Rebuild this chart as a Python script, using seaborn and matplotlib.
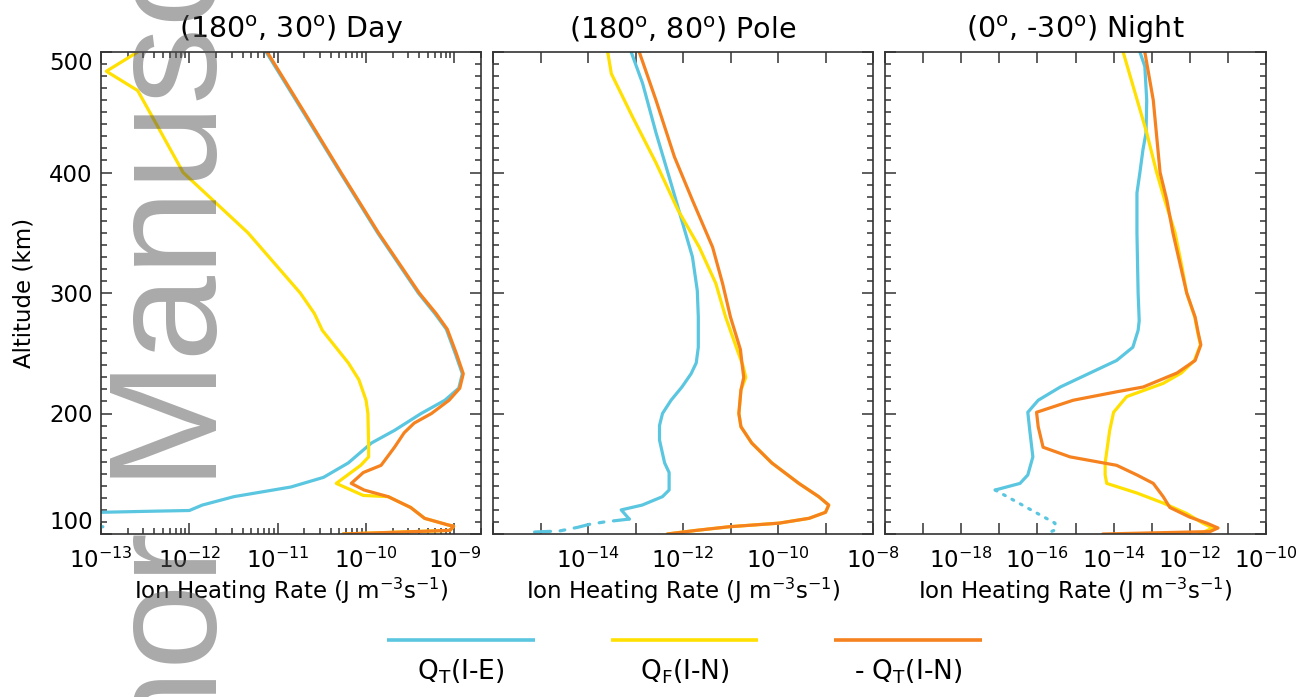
import numpy as np
import pandas as pd
import matplotlib
matplotlib.use("Agg")
import matplotlib.pyplot as plt
from matplotlib.ticker import MultipleLocator, LogLocator, NullLocator, NullFormatter
import seaborn as sns

# ---- data (altitude in km, heating rate in J m-3 s-1) ----
titles = ["(180$^{\\rm o}$, 30$^{\\rm o}$) Day",
          "(180$^{\\rm o}$, 80$^{\\rm o}$) Pole",
          "(0$^{\\rm o}$, -30$^{\\rm o}$) Night"]
series_labels = ["Q$_{\\rm T}$(I-E)", "Q$_{\\rm F}$(I-N)", "- Q$_{\\rm T}$(I-N)"]

# Day
day_alt_ie = [500, 450, 400, 350, 300, 283, 270, 250, 233, 221, 211, 200, 186, 175.5, 159, 147, 139,
              131, 124, 119.5, 118.8, 118, 117, 112, 106, 103]
day_qt_ie = [7.4e-12, 1.95e-11, 5.1e-11, 1.35e-10, 3.9e-10, 6.0e-10, 8.1e-10, 1.02e-9, 1.23e-9, 1.12e-9,
             7.8e-10, 4.2e-10, 2.1e-10, 1.15e-10, 6.3e-11, 3.3e-11, 1.41e-11, 3.2e-12, 1.4e-12,
             1.0e-12, 3.2e-13, 1.0e-13, 3.2e-14, 1.0e-14, 1.05e-13, 3.2e-14]
day_alt_qf = [500, 484, 468, 438, 400, 350, 300, 283, 269, 242, 228, 211, 200, 172, 164, 157,
              142, 132, 131, 122, 113, 107.5, 106.5, 103, 100]
day_qf_in = [2.6e-13, 1.15e-13, 2.6e-13, 4.4e-13, 8.5e-13, 4.6e-12, 1.8e-11, 2.6e-11, 3.2e-11,
             6.3e-11, 8.3e-11, 1.0e-10, 1.05e-10, 1.07e-10, 1.07e-10, 8.7e-11, 4.6e-11, 9.3e-11,
             1.78e-10, 3.2e-10, 4.6e-10, 8.5e-10, 9.8e-10, 8.9e-10, 5.5e-11]
day_alt_in = [500, 450, 400, 350, 300, 283, 270, 250, 233, 221, 211, 200, 192, 184, 172, 157, 151,
              142, 136.5, 131, 122, 113, 107.5, 106.5, 103, 100]
day_qt_in = [7.6e-12, 2.0e-11, 5.2e-11, 1.38e-10, 4.0e-10, 6.2e-10, 8.3e-10, 1.05e-9, 1.26e-9, 1.15e-9,
             8.7e-10, 5.5e-10, 3.5e-10, 2.7e-10, 2.1e-10, 1.48e-10, 9.3e-11, 6.8e-11, 9.5e-11,
             1.78e-10, 3.2e-10, 4.6e-10, 8.5e-10, 9.8e-10, 8.9e-10, 5.5e-11]

# Pole
pole_alt_ie = [500, 474, 433, 391, 358, 330, 302, 280, 255, 242, 233, 222, 211, 200, 190, 178,
               159, 151, 136.5, 131, 124, 120, 112.4]
pole_qt_ie = [8.1e-14, 1.41e-13, 2.7e-13, 5.6e-13, 9.8e-13, 1.58e-12, 2.0e-12, 2.1e-12, 2.1e-12,
              1.9e-12, 1.48e-12, 9.5e-13, 5.6e-13, 3.7e-13, 3.2e-13, 3.2e-13, 4.1e-13, 5.1e-13,
              5.1e-13, 3.7e-13, 1.38e-13, 5.0e-14, 7.4e-14]
pole_alt_ie_neg = [112.4, 110, 108, 105.5, 102.5, 101.5]
pole_qt_ie_neg = [7.4e-14, 2.2e-14, 1.07e-14, 6.0e-15, 2.5e-15, 6.0e-16]
pole_alt_qf = [500, 482, 446, 408, 369, 338, 308, 280, 253, 240, 230, 219.5, 200, 189, 175.5,
               159, 142, 131, 124, 118, 113, 109, 106, 103, 100]
pole_qf_in = [2.6e-14, 3.1e-14, 8.7e-14, 2.7e-13, 7.8e-13, 2.2e-12, 4.9e-12, 7.9e-12, 1.38e-11,
              1.82e-11, 2.1e-11, 1.66e-11, 1.5e-11, 1.66e-11, 2.8e-11, 7.4e-11, 2.75e-10,
              7.2e-10, 1.17e-9, 1.0e-9, 4.5e-10, 1.05e-10, 9.3e-12, 1.9e-12, 4.7e-13]
pole_alt_in = [500, 460, 413, 377, 338, 308, 280, 253, 242, 230, 219.5, 200, 189, 175.5, 159,
               142, 131, 124, 118, 113, 109, 106, 103, 100]
pole_qt_in = [1.2e-13, 2.7e-13, 6.6e-13, 1.58e-12, 4.2e-12, 6.8e-12, 1.0e-11, 1.62e-11, 1.74e-11,
              1.9e-11, 1.66e-11, 1.5e-11, 1.66e-11, 2.8e-11, 7.4e-11, 2.75e-10, 7.2e-10, 1.17e-9,
              1.0e-9, 4.5e-10, 1.05e-10, 9.3e-12, 1.9e-12, 4.7e-13]

# Night
night_alt_ie = [500, 488, 460, 433, 419, 400, 383, 350, 300, 277, 269, 255, 244, 233.6, 222,
                211, 201, 186, 164, 149, 142, 136.5]
night_qt_ie = [4.9e-14, 6.6e-14, 7.4e-14, 7.1e-14, 5.9e-14, 4.9e-14, 4.1e-14, 4.1e-14, 4.4e-14,
               4.7e-14, 4.4e-14, 3.2e-14, 1.2e-14, 2.4e-15, 4.0e-16, 1.05e-16, 5.6e-17, 6.3e-17,
               7.6e-17, 5.6e-17, 3.5e-17, 7.8e-18]
night_alt_ie_neg = [136.5, 109, 103.3, 100.5]
night_qt_ie_neg = [7.8e-18, 2.9e-16, 2.9e-16, 1.74e-16]
night_alt_qf = [500, 433, 400, 377, 350, 322, 300, 280, 267, 257, 244, 233.6, 225, 214, 201,
                186, 159, 149, 142, 134, 125.7, 117, 109, 105, 100]
night_qf_in = [1.78e-14, 7.4e-14, 1.35e-13, 2.2e-13, 4.1e-13, 6.2e-13, 8.3e-13, 1.35e-12,
               1.62e-12, 1.9e-12, 1.32e-12, 6.0e-13, 2.0e-13, 2.2e-14, 1.0e-14, 7.9e-15, 6.0e-15,
               6.0e-15, 6.6e-15, 4.1e-14, 2.0e-13, 8.3e-13, 2.2e-12, 4.0e-12, 1.8e-12]
night_alt_in = [500, 460, 400, 377, 350, 300, 280, 267, 257, 244, 233.6, 222, 218, 211, 201,
                189, 172, 164, 157, 149, 142, 131, 122, 114, 109, 105, 102, 100]
night_qt_in = [6.6e-14, 1.1e-13, 1.66e-13, 2.5e-13, 3.6e-13, 8.3e-13, 1.38e-12, 1.66e-12,
               1.95e-12, 1.38e-12, 4.6e-13, 6.0e-14, 1.2e-14, 8.7e-16, 9.5e-17, 1.05e-16,
               1.41e-16, 7.2e-16, 1.2e-14, 4.1e-14, 1.1e-13, 2.0e-13, 3.0e-13, 1.0e-12, 2.8e-12,
               5.5e-12, 3.4e-12, 5.2e-15]

# x axes: limits and decade ticks (exponents), labelled decades
x_limits = [(1e-13, 2e-9), (1e-16, 1e-8), (1e-20, 1e-10)]
x_decades = [range(-13, -8), range(-16, -7), range(-20, -9)]
x_labelled = [[-13, -12, -11, -10, -9], [-14, -12, -10, -8], [-18, -16, -14, -12, -10]]
y_ticks = [100, 200, 300, 400, 500]

cyan = "#5BC6E0"
yellow = "#FFE000"
orange = "#F5821F"

sns.set_style("ticks")
plt.rcParams["font.family"] = ["DejaVu Sans"]
plt.rcParams["mathtext.fontset"] = "dejavusans"
plt.rcParams["axes.unicode_minus"] = False
plt.rcParams["text.color"] = "black"
plt.rcParams["axes.labelcolor"] = "black"
plt.rcParams["xtick.color"] = "black"
plt.rcParams["ytick.color"] = "black"

fig = plt.figure(figsize=(13.1, 6.97), dpi=100)
W, H = 1310.0, 697.0
lefts = [101, 493, 885]
widths = [380, 380, 381]

panels = [
    [(day_alt_ie, day_qt_ie, cyan, "-"), (day_alt_qf, day_qf_in, yellow, "-"),
     (day_alt_in, day_qt_in, orange, "-")],
    [(pole_alt_ie, pole_qt_ie, cyan, "-"), (pole_alt_ie_neg, pole_qt_ie_neg, cyan, (0, (5, 3, 1.5, 3))),
     (pole_alt_qf, pole_qf_in, yellow, "-"), (pole_alt_in, pole_qt_in, orange, "-")],
    [(night_alt_ie, night_qt_ie, cyan, "-"), (night_alt_ie_neg, night_qt_ie_neg, cyan, (0, (0.6, 2.4))),
     (night_alt_qf, night_qf_in, yellow, "-"), (night_alt_in, night_qt_in, orange, "-")],
]

for i in range(3):
    ax = fig.add_axes([lefts[i] / W, 163 / H, widths[i] / W, 482 / H])
    ax.set_xscale("log")
    for alt, val, col, ls in panels[i]:
        df = pd.DataFrame({"alt": alt, "rate": val})
        sns.lineplot(data=df, x="rate", y="alt", sort=False, estimator=None, orient="y",
                     color=col, linewidth=2.3, linestyle=ls, ax=ax,
                     dash_capstyle="round" if ls != "-" else "butt")
    ax.set_xlim(*x_limits[i])
    ax.set_ylim(100, 500)

    ticks = [10.0 ** e for e in x_decades[i]]
    ax.set_xticks(ticks)
    ax.set_xticklabels(["$\\mathdefault{10^{%d}}$" % e if e in x_labelled[i] else ""
                        for e in x_decades[i]])
    if i == 0:
        ax.xaxis.set_minor_locator(LogLocator(base=10, subs=np.arange(2, 10)))
        ax.xaxis.set_minor_formatter(NullFormatter())
    else:
        ax.xaxis.set_minor_locator(NullLocator())

    ax.set_yticks(y_ticks)
    ax.yaxis.set_minor_locator(MultipleLocator(10))
    if i == 0:
        labs = ax.set_yticklabels([str(v) for v in y_ticks])
        labs[0].set_va("bottom")
        labs[-1].set_va("top")
        ax.set_ylabel("Altitude (km)", fontsize=16.5, labelpad=10)
    else:
        ax.tick_params(labelleft=False)
        ax.set_ylabel("")

    ax.tick_params(which="both", direction="in", top=True, right=True,
                   color="#333333", width=1.1, labelsize=16.5, pad=6)
    ax.tick_params(which="major", length=8)
    ax.tick_params(which="minor", length=4)
    ax.tick_params(axis="x", pad=10)
    for sp in ax.spines.values():
        sp.set_color("#333333")
        sp.set_linewidth(1.2)
    ax.set_xlabel("Ion Heating Rate (J m$^{-3}$s$^{-1}$)", fontsize=16.5, labelpad=2)
    ax.set_title(titles[i], fontsize=20.5, pad=10)

# legend row: line above, label below
lax = fig.add_axes([387 / W, 7 / H, 595 / W, 60 / H])
lax.set_xlim(0, 2.662)
lax.set_ylim(0, 1)
lax.axis("off")
for k, (lab, col) in enumerate(zip(series_labels, [cyan, yellow, orange])):
    lax.plot([k, k + 0.662], [0.833, 0.833], color=col, linewidth=2.6, solid_capstyle="butt")
    lax.text(k + 0.331, 0.3, lab, ha="center", va="center", fontsize=19)

# watermark
fig.text(217 / W, (H - 986) / H, "Author Manuscript", rotation=90, rotation_mode="anchor",
         ha="left", va="baseline", fontsize=111, family="Liberation Sans",
         color="#555555", alpha=0.5, zorder=10)

fig.savefig("out.png", dpi=100)
